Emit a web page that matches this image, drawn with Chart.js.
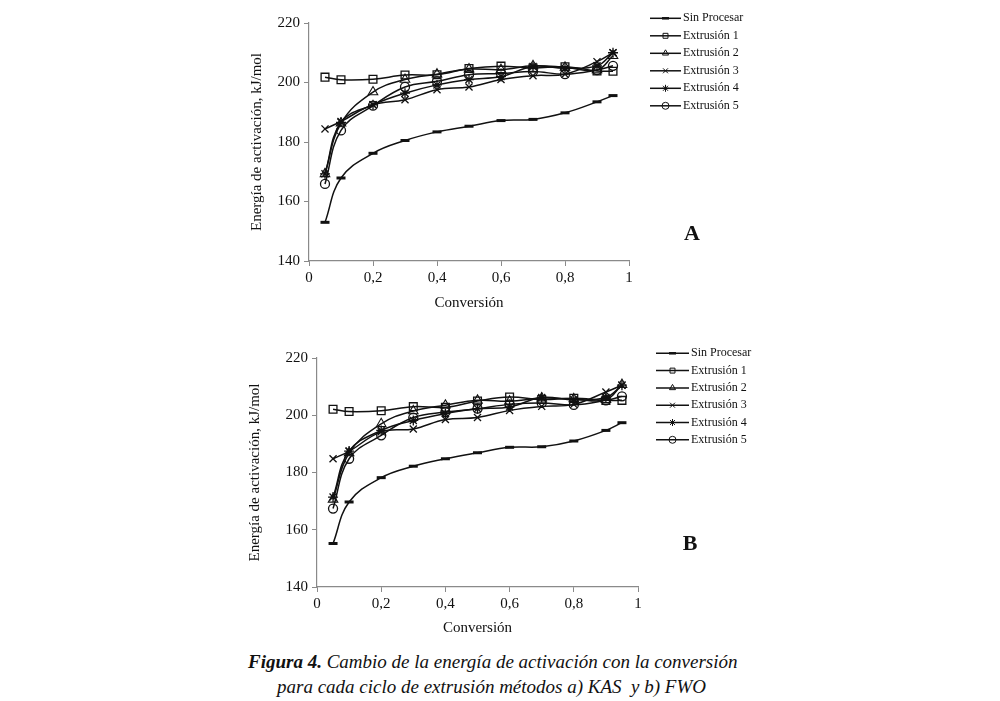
<!DOCTYPE html>
<html>
<head>
<meta charset="utf-8">
<script src="https://cdn.jsdelivr.net/npm/chart.js@4.4.0/dist/chart.umd.min.js"></script>
<style>
    body { margin: 0; background: #fff; width: 1000px; height: 701px; position: relative; overflow: hidden; }
    canvas { position: absolute; }
    #chartA { left: 240px; top: 10px; }
    #chartB { left: 240px; top: 340px; }
    .cap { position: absolute; font-family: "Liberation Serif", "Times New Roman", serif; font-style: italic; font-size: 19px; white-space: pre; color: #111; }
</style>
</head>
<body>
<canvas id="chartA" width="550" height="310"></canvas>
<canvas id="chartB" width="550" height="310"></canvas>
<div class="cap" id="cap1" style="left:248px; top:651px;"><b>Figura 4.</b> Cambio de la energía de activación con la conversión</div>
<div class="cap" id="cap2" style="left:277px; top:676px;">para cada ciclo de extrusión métodos a) KAS  y b) FWO</div>
<script>
// datos
var conversion = [0.05, 0.1, 0.2, 0.3, 0.4, 0.5, 0.6, 0.7, 0.8, 0.9, 0.95];
var seriesNames = ['Sin Procesar', 'Extrusión 1', 'Extrusión 2', 'Extrusión 3', 'Extrusión 4', 'Extrusión 5'];
var yTicks = [140, 160, 180, 200, 220];
var xTicks = [0, 0.2, 0.4, 0.6, 0.8, 1];

// a) KAS
var kasSin = [153, 167.9, 176.2, 180.5, 183.4, 185.3, 187.2, 187.6, 189.8, 193.5, 195.6];
var kasE1  = [201.8, 200.9, 201.1, 202.5, 202.6, 204.7, 205.5, 204.9, 205.3, 203.9, 203.8];
var kasE2  = [169.3, 186.3, 196.8, 201, 202.8, 204.5, 204.3, 205.6, 205.1, 204.2, 209];
var kasE3  = [184.4, 186.9, 192.5, 194.2, 197.6, 198.5, 201, 202.3, 202.8, 207, 210];
var kasE4  = [169.3, 186.6, 192.5, 196.4, 199.2, 201, 202, 205.4, 204.8, 205.6, 210];
var kasE5  = [165.9, 183.9, 192.2, 198.5, 200.4, 202.6, 203, 203.7, 202.8, 204.2, 205.6];

// b) FWO
var fwoSin = [155.2, 169.7, 178.2, 182.2, 184.8, 186.9, 188.8, 189, 191, 194.7, 197.4];
var fwoE1  = [202.1, 201.3, 201.6, 203, 202.8, 205, 206.4, 205.5, 205.9, 205.2, 205.2];
var fwoE2  = [170.6, 186.8, 197, 201.5, 203.5, 205.2, 204.9, 206, 205.7, 205.4, 210.7];
var fwoE3  = [184.8, 187.4, 194.2, 195.2, 198.5, 199.2, 201.7, 203.1, 203.8, 208.1, 210.5];
var fwoE4  = [171.4, 187.5, 194.7, 198.2, 200.6, 202.3, 202.9, 206.2, 205.4, 206.2, 210.5];
var fwoE5  = [167.4, 184.8, 193, 199.2, 201.1, 202.3, 203.8, 204.3, 203.6, 205.2, 206.6];

var pointStyles = ['line', 'rect', 'triangle', 'crossRot', 'star', 'circle'];
var pointRadii  = [4.5, 5.5, 5.5, 5, 5, 4.5];
var pointWidths = [3, 1.3, 1.1, 1.3, 1.3, 1.3];

var serif = '"Liberation Serif", "Times New Roman", serif';

function makeDatasets(arrays) {
    return arrays.map(function(vals, i) {
        return {
            label: seriesNames[i],
            data: vals.map(function(v, j) { return { x: conversion[j], y: v }; }),
            borderColor: '#111',
            borderWidth: 1.5,
            tension: 0.4,
            pointStyle: pointStyles[i],
            pointRadius: pointRadii[i],
            pointBorderWidth: pointWidths[i],
            pointBorderColor: '#111',
            pointBackgroundColor: 'rgba(0,0,0,0)',
            fill: false
        };
    });
}

// leyenda propia: línea con marcador en medio
var customLegend = {
    id: 'customLegend',
    afterDraw: function(chart, args, opts) {
        var ctx = chart.ctx;
        ctx.save();
        chart.data.datasets.forEach(function(ds, i) {
            var y = opts.y0 + opts.dy * i;
            ctx.strokeStyle = '#111';
            ctx.lineWidth = 1.5;
            ctx.beginPath();
            ctx.moveTo(opts.x0, y);
            ctx.lineTo(opts.x1, y);
            ctx.stroke();
            // marcador sin relleno
            ctx.fillStyle = 'rgba(0,0,0,0)';
            ctx.lineWidth = ds.pointBorderWidth > 2 ? 2.5 : 1;
            Chart.helpers.drawPoint(ctx, {
                pointStyle: ds.pointStyle,
                radius: 3.5,
                rotation: 0,
                borderWidth: 1
            }, (opts.x0 + opts.x1) / 2, y);
            ctx.fillStyle = '#111';
            ctx.font = '12px ' + serif;
            ctx.textBaseline = 'middle';
            ctx.textAlign = 'left';
            ctx.fillText(ds.label, opts.x1 + 2, y);
        });
        ctx.font = 'bold 22px ' + serif;
        ctx.textAlign = 'center';
        ctx.fillText(opts.letter, opts.lx, opts.ly);
        ctx.restore();
    }
};

function createChart(id, arrays, cfg) {
    var ctx = document.getElementById(id).getContext('2d');
    return new Chart(ctx, {
        type: 'line',
        data: { datasets: makeDatasets(arrays) },
        plugins: [customLegend],
        options: {
            responsive: false,
            animation: false,
            layout: { padding: { top: cfg.padTop, right: cfg.padRight, left: 0, bottom: 0 } },
            plugins: {
                legend: { display: false },
                tooltip: { enabled: false },
                customLegend: cfg.legend
            },
            scales: {
                x: {
                    type: 'linear',
                    min: 0,
                    max: 1,
                    afterBuildTicks: function(scale) {
                        scale.ticks = xTicks.map(function(v) { return { value: v }; });
                    },
                    afterFit: function(scale) { scale.height = cfg.xHeight; },
                    border: { color: '#8a8a8a', width: 1.2 },
                    grid: { drawOnChartArea: false, color: '#8a8a8a', tickLength: 5 },
                    ticks: {
                        color: '#111',
                        font: { family: serif, size: 15 },
                        padding: 3,
                        maxRotation: 0,
                        callback: function(v) { return String(Math.round(v * 10) / 10).replace('.', ','); }
                    },
                    title: {
                        display: true,
                        text: 'Conversión',
                        color: '#111',
                        font: { family: serif, size: 15 },
                        padding: { top: 0, bottom: cfg.xTitlePad }
                    }
                },
                y: {
                    min: 140,
                    max: 220,
                    afterBuildTicks: function(scale) {
                        scale.ticks = yTicks.map(function(v) { return { value: v }; });
                    },
                    afterFit: function(scale) { scale.width = cfg.yWidth; },
                    border: { color: '#8a8a8a', width: 1.2 },
                    grid: { drawOnChartArea: false, color: '#8a8a8a', tickLength: 5 },
                    ticks: {
                        color: '#111',
                        font: { family: serif, size: 15 },
                        padding: 4
                    },
                    title: {
                        display: true,
                        text: 'Energía de activación, kJ/mol',
                        color: '#111',
                        font: { family: serif, size: 15 },
                        padding: { top: cfg.yTitlePad, bottom: 0 }
                    }
                }
            }
        }
    });
}

createChart('chartA', [kasSin, kasE1, kasE2, kasE3, kasE4, kasE5], {
    padTop: 13, padRight: 161, xHeight: 59, yWidth: 69, xTitlePad: 8, yTitlePad: 8,
    legend: { x0: 410, x1: 441, y0: 8.3, dy: 17.5, letter: 'A', lx: 452, ly: 224 }
});

createChart('chartB', [fwoSin, fwoE1, fwoE2, fwoE3, fwoE4, fwoE5], {
    padTop: 18, padRight: 152, xHeight: 63, yWidth: 77, xTitlePad: 13, yTitlePad: 6,
    legend: { x0: 416, x1: 449, y0: 13.3, dy: 17.3, letter: 'B', lx: 450, ly: 204 }
});
</script>
</body>
</html>
